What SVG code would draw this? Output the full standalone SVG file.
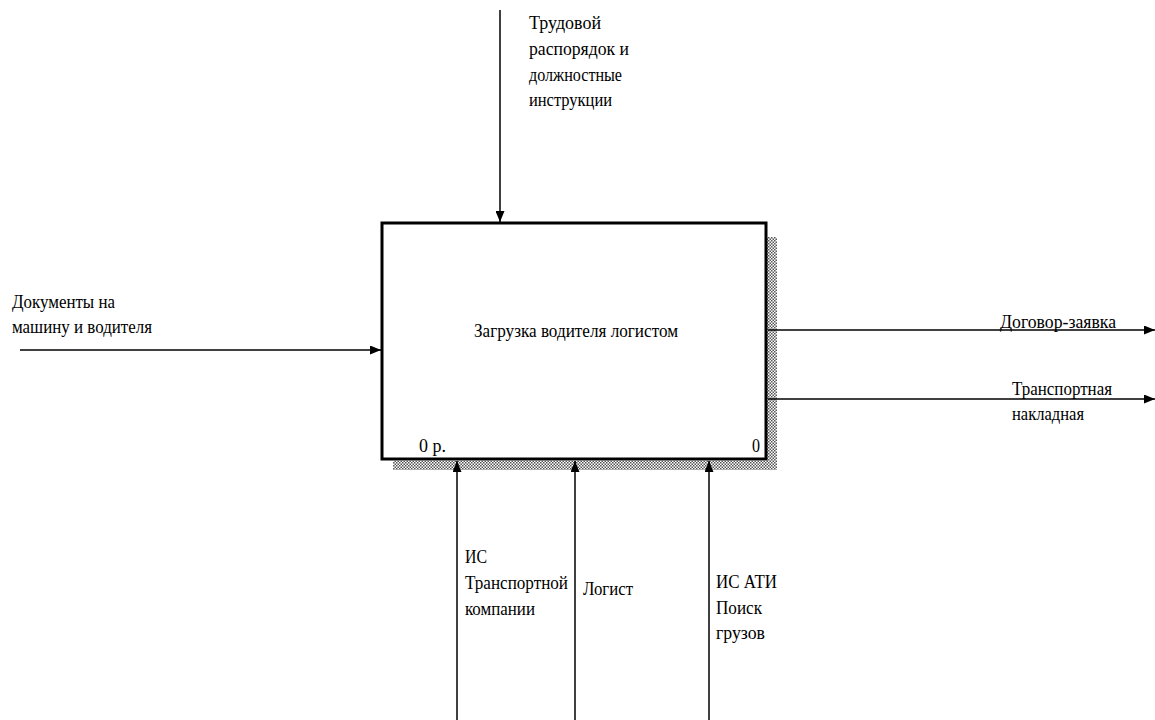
<svg xmlns="http://www.w3.org/2000/svg" width="1155" height="720" viewBox="0 0 1155 720">
<defs>
<pattern id="hatch" width="3" height="3" patternUnits="userSpaceOnUse">
<rect width="3" height="3" fill="#ffffff"/>
<rect width="1.5" height="1.5" fill="#555"/>
<rect x="1.5" y="1.5" width="1.5" height="1.5" fill="#555"/>
</pattern>
<marker id="arr" markerWidth="11" markerHeight="9" refX="11" refY="4.5" orient="auto" markerUnits="userSpaceOnUse">
<path d="M0,0 L11,4.5 L0,9 Z" fill="#000"/>
</marker>
</defs>
<style>
text{font-family:"Liberation Serif","Times New Roman",serif;font-size:18px;fill:#000}
.ln{stroke:#000;stroke-width:1.5;fill:none}
</style>
<g id="node-main">
<rect x="767" y="237" width="10" height="233" fill="url(#hatch)"/>
<rect x="393" y="461" width="384" height="9" fill="url(#hatch)"/>
<rect x="382" y="223" width="384" height="236" fill="#fff" stroke="#000" stroke-width="3"/>
<text x="474" y="337" textLength="204" lengthAdjust="spacingAndGlyphs">Загрузка водителя логистом</text>
<text x="419" y="452" textLength="27" lengthAdjust="spacingAndGlyphs">0 р.</text>
<text x="752" y="452" textLength="8" lengthAdjust="spacingAndGlyphs">0</text>
</g>
<g id="connectors">
<line class="ln" x1="500" y1="10" x2="500" y2="222" marker-end="url(#arr)"/>
<line class="ln" x1="20" y1="350" x2="381" y2="350" marker-end="url(#arr)"/>
<line class="ln" x1="768" y1="330" x2="1155" y2="330" marker-end="url(#arr)"/>
<line class="ln" x1="768" y1="399" x2="1155" y2="399" marker-end="url(#arr)"/>
<line class="ln" x1="457" y1="720" x2="457" y2="461" marker-end="url(#arr)"/>
<line class="ln" x1="575" y1="720" x2="575" y2="461" marker-end="url(#arr)"/>
<line class="ln" x1="709" y1="720" x2="709" y2="461" marker-end="url(#arr)"/>
</g>
<g id="label-control">
<text x="529" y="29" textLength="72" lengthAdjust="spacingAndGlyphs">Трудовой</text>
<text x="529" y="55" textLength="100" lengthAdjust="spacingAndGlyphs">распорядок и</text>
<text x="529" y="81" textLength="93" lengthAdjust="spacingAndGlyphs">должностные</text>
<text x="529" y="106" textLength="83" lengthAdjust="spacingAndGlyphs">инструкции</text>
</g>
<g id="label-input">
<text x="12" y="308" textLength="103" lengthAdjust="spacingAndGlyphs">Документы на</text>
<text x="12" y="333" textLength="140" lengthAdjust="spacingAndGlyphs">машину и водителя</text>
</g>
<g id="label-output1">
<text x="1000" y="328" textLength="116" lengthAdjust="spacingAndGlyphs">Договор-заявка</text>
</g>
<g id="label-output2">
<text x="1012" y="395" textLength="100" lengthAdjust="spacingAndGlyphs">Транспортная</text>
<text x="1012" y="420" textLength="72" lengthAdjust="spacingAndGlyphs">накладная</text>
</g>
<g id="label-mech1">
<text x="465" y="563" textLength="22" lengthAdjust="spacingAndGlyphs">ИС</text>
<text x="465" y="589" textLength="103" lengthAdjust="spacingAndGlyphs">Транспортной</text>
<text x="465" y="615" textLength="70" lengthAdjust="spacingAndGlyphs">компании</text>
</g>
<g id="label-mech2">
<text x="583" y="595" textLength="50" lengthAdjust="spacingAndGlyphs">Логист</text>
</g>
<g id="label-mech3">
<text x="716" y="588" textLength="61" lengthAdjust="spacingAndGlyphs">ИС АТИ</text>
<text x="716" y="614" textLength="46" lengthAdjust="spacingAndGlyphs">Поиск</text>
<text x="716" y="639" textLength="49" lengthAdjust="spacingAndGlyphs">грузов</text>
</g>
</svg>
